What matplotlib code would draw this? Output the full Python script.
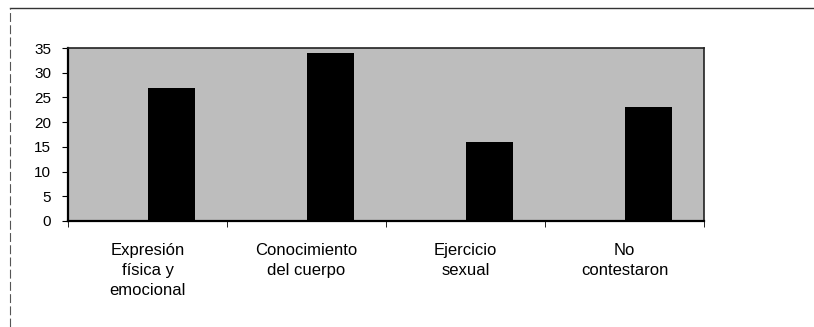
import matplotlib
matplotlib.use("Agg")
import matplotlib.pyplot as plt
import numpy as np

plt.rcParams['font.family'] = ['Liberation Sans', 'DejaVu Sans']

categorias = ["Expresión\nfísica y\nemocional", "Conocimiento\ndel cuerpo",
              "Ejercicio\nsexual", "No\ncontestaron"]
valores = [27, 34, 16, 23]
yticks = [0, 5, 10, 15, 20, 25, 30, 35]

fig = plt.figure(figsize=(8.14, 3.27), dpi=100)
ax = fig.add_axes([68/814, 1-221/327, (704-68)/814, (221-48)/327])

x = np.arange(len(categorias))
ax.bar(x, valores, width=0.296, align='edge', color='black', zorder=2)
ax.set_facecolor('#bdbdbd')

ax.set_xlim(-0.5, len(categorias) - 0.5)
ax.set_ylim(0, 35)
ax.set_yticks(yticks)
ax.tick_params(axis='y', labelsize=11, length=4, direction='out', pad=8)

ax.set_xticks(x)
ax.set_xticklabels(categorias, fontsize=12, linespacing=1.42, va='top')
ax.tick_params(axis='x', length=0, pad=16)
ax.set_xticks(np.arange(len(categorias) + 1) - 0.5, minor=True)
ax.tick_params(axis='x', which='minor', length=4, direction='out')

for s in ['left', 'bottom']:
    ax.spines[s].set_linewidth(1.6)
for s in ['top', 'right']:
    ax.spines[s].set_linewidth(1.2)
    ax.spines[s].set_color('#222222')

# marco exterior (solo arriba e izquierda visibles)
fig.add_artist(plt.Line2D([10/814, 1.0], [1-8/327, 1-8/327], color='#333333', lw=1.0))
fig.add_artist(plt.Line2D([10/814, 10/814], [0.0, 1-8/327], color='#555555', lw=0.8,
                          linestyle=(0, (8, 3))))

fig.savefig("out.png", dpi=100)
